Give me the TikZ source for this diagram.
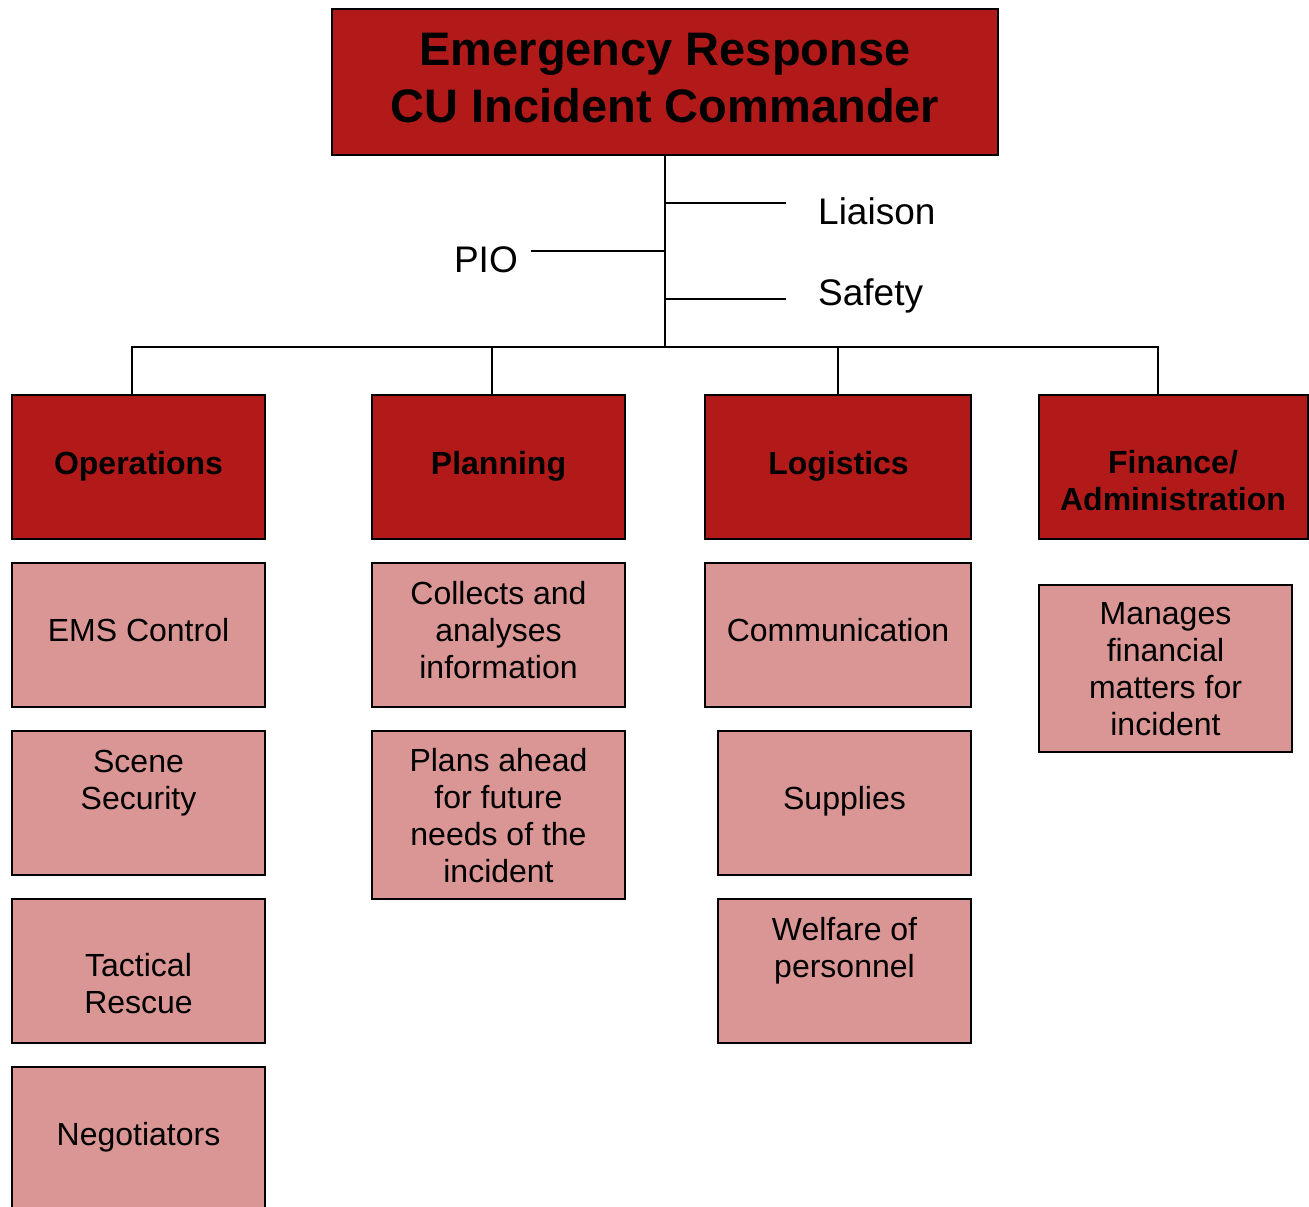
\documentclass[tikz,border=0pt]{standalone}
\usepackage{fontspec}
\setmainfont{Liberation Sans}
\definecolor{darkred}{RGB}{178,26,26}
\definecolor{pinkfill}{RGB}{217,150,148}
\begin{document}
\begin{tikzpicture}[x=1pt,y=-1pt,
  redbox/.style={draw=black,line width=1.6pt,fill=darkred,inner sep=0pt},
  pinkbox/.style={draw=black,line width=1.6pt,fill=pinkfill,inner sep=0pt},
  conn/.style={line width=1.6pt,draw=black},
  bodytxt/.style={anchor=base,align=center,inner sep=0pt,font=\fontsize{32}{37}\selectfont},
  hdrtxt/.style={anchor=base,align=center,inner sep=0pt,font=\fontsize{32}{37}\selectfont\bfseries},
  titletxt/.style={anchor=base,align=center,inner sep=0pt,font=\fontsize{47}{57}\selectfont\bfseries},
  sidetxt/.style={inner sep=0pt,font=\fontsize{37}{42}\selectfont}]
\useasboundingbox (0,0) rectangle (1309,1207);
\clip (0,0) rectangle (1309,1207);
% top box
\node[redbox,minimum width=666pt,minimum height=146pt] (cmd) at (665,82) {};
\node[titletxt] (cmdt) at (665,122) {Emergency Response\\CU Incident Commander};
% trunk coordinates
\coordinate (tL) at (665,203);
\coordinate (tP) at (665,251);
\coordinate (tS) at (665,299);
\coordinate (bus) at (665,347);
\coordinate (lend) at (786,203);
\coordinate (send) at (786,299);
\coordinate (pend) at (531,251);
\node[sidetxt,anchor=base west] (liaison) at (818,224) {Liaison};
\node[sidetxt,anchor=base west] (safety) at (818,305) {Safety};
\node[sidetxt,anchor=base east] (pio) at (518,272) {PIO};
\draw[conn] (cmd.south) -- (bus);
\draw[conn] (tL) -- (lend);
\draw[conn] (tS) -- (send);
\draw[conn] (tP) -- (pend);
% headers
\node[redbox,minimum width=253pt,minimum height=144pt] (ops) at (138.5,467) {};
\node[redbox,minimum width=253pt,minimum height=144pt] (plan) at (498.5,467) {};
\node[redbox,minimum width=266pt,minimum height=144pt] (log) at (838,467) {};
\node[redbox,minimum width=269pt,minimum height=144pt] (fin) at (1173.5,467) {};
\coordinate (dops) at (132,395);
\coordinate (dplan) at (492,395);
\coordinate (dlog) at (838,395);
\coordinate (dfin) at (1158,395);
\draw[conn] (dops) -- (132,347) -- (1158,347) -- (dfin);
\draw[conn] (dplan) -- (492,347);
\draw[conn] (dlog) -- (838,347);
\node[hdrtxt] (opst) at (138.5,474.5) {Operations};
\node[hdrtxt] (plant) at (498.5,474.5) {Planning};
\node[hdrtxt] (logt) at (838.5,474.5) {Logistics};
\node[hdrtxt] (fint) at (1173,510) {Finance/\\Administration};
% operations column
\node[pinkbox,minimum width=253pt,minimum height=144pt] (ems) at (138.5,635) {};
\node[pinkbox,minimum width=253pt,minimum height=144pt] (scene) at (138.5,803) {};
\node[pinkbox,minimum width=253pt,minimum height=144pt] (tact) at (138.5,971) {};
\node[pinkbox,minimum width=253pt,minimum height=144pt] (nego) at (138.5,1139) {};
\node[bodytxt] (emst) at (138.5,641.5) {EMS Control};
\node[bodytxt] (scenet) at (138.5,809.5) {Scene\\Security};
\node[bodytxt] (tactt) at (138.5,1013.5) {Tactical\\Rescue};
\node[bodytxt] (negot) at (138.5,1145) {Negotiators};
% planning column
\node[pinkbox,minimum width=253pt,minimum height=144pt] (coll) at (498.5,635) {};
\node[pinkbox,minimum width=253pt,minimum height=168pt] (plahead) at (498.5,815) {};
\node[bodytxt] (collt) at (498.5,678.5) {Collects and\\analyses\\information};
\node[bodytxt] (plaheadt) at (498.5,882.5) {Plans ahead\\for future\\needs of the\\incident};
% logistics column
\node[pinkbox,minimum width=266pt,minimum height=144pt] (comm) at (838,635) {};
\node[pinkbox,minimum width=253pt,minimum height=144pt] (supp) at (844.5,803) {};
\node[pinkbox,minimum width=253pt,minimum height=144pt] (welf) at (844.5,971) {};
\node[bodytxt] (commt) at (838,641.5) {Communication};
\node[bodytxt] (suppt) at (844.5,809.5) {Supplies};
\node[bodytxt] (welft) at (844.5,977.5) {Welfare of\\personnel};
% finance column
\node[pinkbox,minimum width=253pt,minimum height=167pt] (mang) at (1165.5,668.5) {};
\node[bodytxt] (mangt) at (1165.5,735.5) {Manages\\financial\\matters for\\incident};
\end{tikzpicture}
\end{document}
